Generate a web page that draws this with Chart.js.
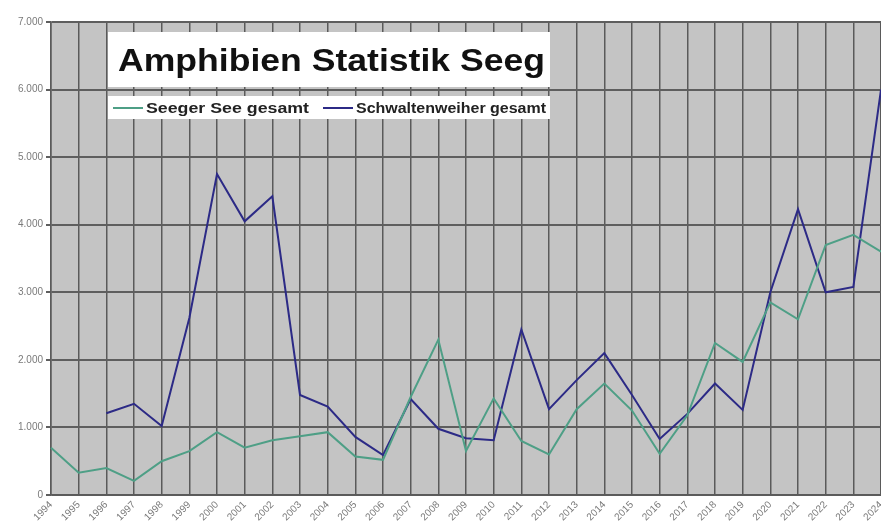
<!DOCTYPE html>
<html>
<head>
<meta charset="utf-8">
<script src="https://cdn.jsdelivr.net/npm/chart.js@4"></script>
<style>
  html, body { margin: 0; padding: 0; background: #fff; }
  #wrap { width: 881px; height: 532px; }
</style>
</head>
<body>
<div id="wrap"><canvas id="chart" width="881" height="532"></canvas></div>
<script>
// years on the x axis
const years = ['1994', '1995', '1996', '1997', '1998', '1999', '2000', '2001', '2002', '2003',
  '2004', '2005', '2006', '2007', '2008', '2009', '2010', '2011', '2012', '2013',
  '2014', '2015', '2016', '2017', '2018', '2019', '2020', '2021', '2022', '2023', '2024'];

const seegerSee = [700, 330, 400, 210, 500, 650, 930, 700, 810, 870,
  930, 570, 520, 1450, 2300, 650, 1430, 800, 600, 1270,
  1650, 1250, 610, 1180, 2250, 1970, 2850, 2600, 3700, 3850, 3600];

const schwaltenweiher = [null, null, 1210, 1350, 1020, 2620, 4750, 4050, 4420, 1480,
  1310, 860, 590, 1420, 980, 840, 810, 2450, 1270, 1700,
  2100, 1480, 830, 1200, 1650, 1260, 3000, 4230, 3000, 3080, 6000];

const yTicks = [0, 1000, 2000, 3000, 4000, 5000, 6000, 7000];

const titleText = 'Amphibien Statistik Seeg';
const seriesNames = ['Seeger See gesamt', 'Schwaltenweiher gesamt'];
const seriesColors = ['#4e9f86', '#2c2a86'];

// draw text stretched horizontally to a given width (the original is a wide-scaled image)
function wideText(ctx, text, x, y, width) {
  const w = ctx.measureText(text).width;
  ctx.save();
  ctx.translate(x, y);
  ctx.scale(width / w, 1);
  ctx.fillText(text, 0, 0);
  ctx.restore();
}

// plot background + title / legend boxes drawn on top of the grid
const boxPlugin = {
  id: 'boxes',
  beforeDraw(chart) {
    const ctx = chart.ctx;
    const a = chart.chartArea;
    ctx.save();
    ctx.fillStyle = '#c4c4c4';
    ctx.fillRect(a.left, a.top, a.right - a.left, a.bottom - a.top);
    ctx.restore();
  },
  beforeDatasetsDraw(chart) {
    const ctx = chart.ctx;
    ctx.save();
    ctx.fillStyle = '#fff';
    ctx.fillRect(108, 32, 442, 55);
    ctx.fillRect(108, 96, 442, 23);
    ctx.fillStyle = '#111';
    ctx.textBaseline = 'alphabetic';
    ctx.font = 'bold 32px "Liberation Sans", Arial, sans-serif';
    wideText(ctx, titleText, 118, 71, 427);
    // legend
    ctx.font = 'bold 14px "Liberation Sans", Arial, sans-serif';
    ctx.fillStyle = '#222';
    ctx.lineWidth = 2;
    const entries = [
      { x: 113, w: 163 },
      { x: 323, w: 190 }
    ];
    entries.forEach((e, i) => {
      ctx.strokeStyle = seriesColors[i];
      ctx.beginPath();
      ctx.moveTo(e.x, 108);
      ctx.lineTo(e.x + 30, 108);
      ctx.stroke();
      wideText(ctx, seriesNames[i], e.x + 33, 113, e.w);
    });
    ctx.restore();
  }
};

new Chart(document.getElementById('chart'), {
  type: 'line',
  data: {
    labels: years,
    datasets: [
      {
        label: seriesNames[0],
        data: seegerSee,
        borderColor: seriesColors[0],
        borderWidth: 2,
        pointRadius: 0,
        tension: 0
      },
      {
        label: seriesNames[1],
        data: schwaltenweiher,
        borderColor: seriesColors[1],
        borderWidth: 2,
        pointRadius: 0,
        tension: 0
      }
    ]
  },
  options: {
    responsive: false,
    animation: false,
    layout: { padding: { top: 22, right: 0, left: 0, bottom: 0 } },
    plugins: {
      legend: { display: false },
      title: { display: false },
      tooltip: { enabled: false }
    },
    scales: {
      x: {
        offset: false,
        grid: { color: '#5a5a5a', lineWidth: 1.5, drawTicks: false },
        border: { color: '#5a5a5a', width: 1.5 },
        ticks: {
          color: '#7a7a7a',
          font: { size: 10, family: 'Arial, "Liberation Sans", sans-serif' },
          minRotation: 45,
          maxRotation: 45,
          autoSkip: false,
          padding: 4
        },
        afterFit(scale) {
          scale.height = 37;
          scale.paddingLeft = 0;
          scale.paddingRight = 0;
        }
      },
      y: {
        min: 0,
        max: 7000,
        afterBuildTicks(scale) { scale.ticks = yTicks.map(v => ({ value: v })); },
        grid: { color: '#5e5e5e', lineWidth: 2, tickLength: 5 },
        border: { color: '#5a5a5a', width: 1.5 },
        ticks: {
          color: '#7a7a7a',
          font: { size: 10, family: 'Arial, "Liberation Sans", sans-serif' },
          padding: 3,
          callback: v => v === 0 ? '0' : v.toLocaleString('de-DE')
        },
        afterFit(scale) {
          scale.width = 51;
          scale.paddingTop = 0;
          scale.paddingBottom = 0;
        }
      }
    }
  },
  plugins: [boxPlugin]
});
</script>
</body>
</html>
